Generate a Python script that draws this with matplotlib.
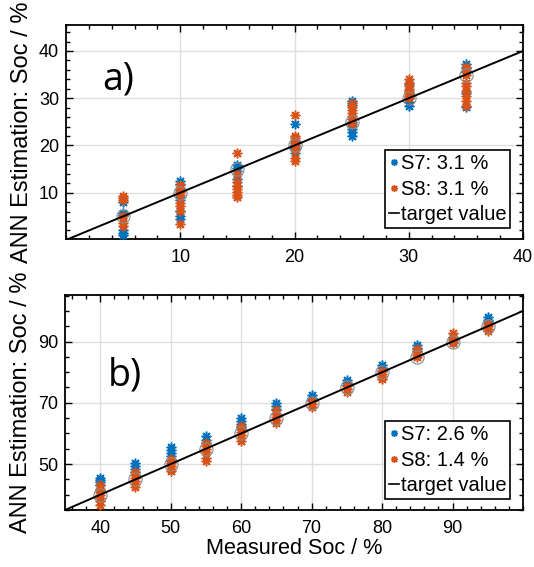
import matplotlib
matplotlib.use("Agg")
import matplotlib.pyplot as plt
import numpy as np
from matplotlib.ticker import MultipleLocator
from matplotlib.lines import Line2D

plt.rcParams['font.family'] = ['Liberation Sans', 'DejaVu Sans']

# ---------------- data ----------------
soc_a = [5, 10, 15, 20, 25, 30, 35]
s7_a = [
    [1.0, 1.5, 2.0, 5.2, 5.8, 8.0],
    [12.5, 11.8, 10.5, 9.0, 8.5, 6.2, 5.0, 4.5],
    [15.9, 15.2, 14.5, 12.8, 11.5],
    [24.5, 21.0, 20.0, 19.5, 18.3],
    [29.4, 28.5, 25.0, 24.2, 23.5, 22.8, 22.0],
    [33.0, 31.0, 30.0, 29.1, 28.3],
    [37.3, 36.5, 35.5, 31.0, 28.1],
]
s8_a = [
    [9.3, 8.8, 8.4, 5.0, 3.5, 3.0],
    [11.7, 11.0, 10.2, 9.6, 7.9, 7.2, 6.2, 3.4],
    [18.5, 14.0, 12.2, 11.5, 10.8, 10.2, 9.5, 9.0],
    [26.5, 22.1, 21.5, 20.5, 19.8, 19.0, 17.4, 16.8],
    [29.0, 28.2, 27.5, 26.8, 26.3, 25.6, 24.6],
    [34.0, 33.2, 32.6, 32.0, 31.5, 31.0, 30.5, 30.0],
    [36.7, 35.8, 35.0, 33.3, 32.5, 31.6, 30.5, 29.4, 28.4],
]
labels_a = ["S7: 3.1 %", "S8: 3.1 %", "target value"]

soc_b = [40, 45, 50, 55, 60, 65, 70, 75, 80, 85, 90, 95]
s7_b = [
    [45.5, 44.8, 44.0, 43.0, 41.5],
    [50.3, 49.5, 48.5, 47.5],
    [55.5, 54.5, 53.5, 52.5, 51.0],
    [59.0, 58.0, 57.0],
    [65.0, 64.0, 63.0, 62.0],
    [70.0, 69.0, 68.0],
    [72.5, 71.5, 70.8],
    [77.5, 76.5, 75.8],
    [82.5, 81.5, 80.5],
    [89.0, 88.0, 87.0],
    [91.0, 90.0],
    [98.0, 97.0, 96.3],
]
s8_b = [
    [43.0, 42.0, 41.0, 40.0, 39.0, 38.0, 36.5],
    [47.5, 46.5, 45.5, 44.5, 43.5, 42.5],
    [51.5, 50.5, 49.5, 48.5, 47.8],
    [57.0, 56.0, 55.0, 54.0, 52.0, 51.0],
    [62.5, 61.5, 60.5, 59.5, 58.5, 57.5],
    [67.5, 66.5, 65.5, 64.5, 63.5],
    [70.5, 69.5, 68.5],
    [75.5, 74.5, 73.5],
    [80.5, 79.5, 78.5, 77.8],
    [87.5, 86.5, 85.5, 84.8],
    [92.8, 91.5, 90.5, 89.5],
    [95.8, 95.0, 94.2, 93.5],
]
labels_b = ["S7: 2.6 %", "S8: 1.4 %", "target value"]

blue = "#0072BD"
orange = "#D95319"
ast = (8, 2, 0)

W, H = 534, 567
fig = plt.figure(figsize=(W / 100, H / 100), dpi=100)


def panel(rect, soc, s7, s8, labels, xlim, ylim, xmin_, ymin_, yticks, tag, tagpos):
    ax = fig.add_axes(rect)
    for x, ys in zip(soc, s7):
        ax.plot([x] * len(ys), ys, ls='none', marker=ast, ms=7, mew=1.1, color=blue, zorder=3)
    for x, ys in zip(soc, s8):
        ax.plot([x] * len(ys), ys, ls='none', marker=ast, ms=7, mew=1.1, color=orange, zorder=4)
    ax.plot(soc, soc, ls='none', marker='o', ms=9.5, mfc='none', mec='#8a8a8a', mew=0.8, zorder=5)
    lo = min(xlim[0], ylim[0])
    hi = max(xlim[1], ylim[1])
    ax.plot([lo, hi], [lo, hi], color='black', lw=1.4, zorder=6)
    ax.set_xlim(xlim)
    ax.set_ylim(ylim)
    ax.xaxis.set_minor_locator(MultipleLocator(xmin_))
    ax.set_yticks(yticks)
    ax.yaxis.set_minor_locator(MultipleLocator(ymin_))
    ax.tick_params(which='both', direction='in', top=True, right=True, labelsize=13, width=1)
    ax.tick_params(which='major', length=5)
    ax.tick_params(which='minor', length=3)
    ax.tick_params(axis='x', pad=7)
    ax.tick_params(axis='y', pad=5)
    ax.grid(True, which='major', color='#dedede', lw=1)
    ax.set_axisbelow(True)
    for s in ax.spines.values():
        s.set_linewidth(1.3)
    ax.set_ylabel("ANN Estimation: Soc / %", fontsize=17)
    ax.yaxis.set_label_coords(-0.072, 0.5)
    ax.text(tagpos[0], tagpos[1], tag, fontsize=27, va='center', ha='left',
            family=['Open Sans', 'DejaVu Sans'])
    handles = [
        Line2D([], [], ls='none', marker=ast, ms=5, mew=1, color=blue),
        Line2D([], [], ls='none', marker=ast, ms=5, mew=1, color=orange),
        Line2D([], [], color='black', lw=1.2),
    ]
    leg = ax.legend(handles, labels, loc='lower right', bbox_to_anchor=(0.972, 0.05),
                    fontsize=14.5, handlelength=0.45, handletextpad=0.1, labelspacing=0.33,
                    borderpad=0.2, borderaxespad=0, fancybox=False, framealpha=1,
                    edgecolor='black')
    leg.get_frame().set_linewidth(1.2)
    leg.set_zorder(10)
    return ax


ax1 = panel([66 / W, 1 - 239 / H, 457 / W, 214 / H], soc_a, s7_a, s8_a, labels_a,
            (0, 40), (0.2, 45.5), 2, 2, [10, 20, 30, 40], "a)", (3.2, 34.0))
ax1.set_xticks([10, 20, 30, 40])

ax2 = panel([65 / W, 1 - 510 / H, 458 / W, 215 / H], soc_b, s7_b, s8_b, labels_b,
            (35, 100), (35, 105.2), 2, 5, [50, 70, 90], "b)", (41.1, 78.8))
ax2.set_xticks([40, 50, 60, 70, 80, 90])
ax2.set_xlabel("Measured Soc / %", fontsize=15.6, labelpad=1)

fig.savefig("out.png", dpi=100)
